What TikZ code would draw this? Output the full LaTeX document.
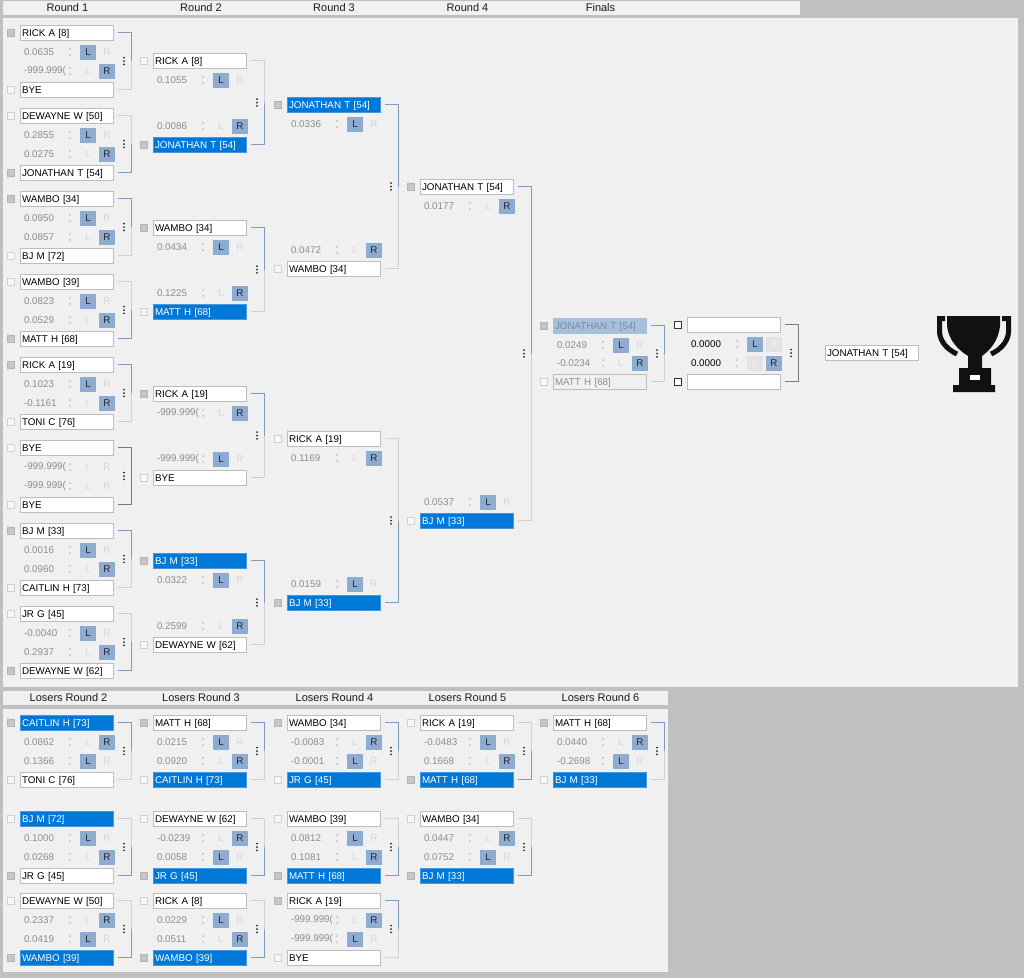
\documentclass[tikz,border=0pt]{standalone}
\usepackage{fontspec}
\setmainfont{Liberation Sans}
\newcommand*{\boxfont}{\fontsize{9.8}{11}\selectfont}
\newcommand*{\headfont}{\fontsize{11}{13}\selectfont}
\definecolor{frame}{HTML}{C0C0C0}
\definecolor{panel}{HTML}{F0F0F0}
\definecolor{boxline}{HTML}{BDBDBD}
\definecolor{pick}{HTML}{0078D7}
\definecolor{pickline}{HTML}{4A97DE}
\definecolor{dimpick}{HTML}{A8BFDC}
\definecolor{dimtext}{HTML}{7A8AA3}
\definecolor{btnblue}{HTML}{8EABD1}
\definecolor{faded}{HTML}{D6D6D6}
\definecolor{scoretext}{HTML}{8C8C8C}
\definecolor{wonblue}{HTML}{8199BF}
\definecolor{lostgrey}{HTML}{D0D0D0}
\definecolor{opengrey}{HTML}{7A7A7A}
\definecolor{tickgrey}{HTML}{C6C6C6}
\definecolor{tickline}{HTML}{B4B4B4}
\definecolor{cup}{HTML}{111111}
\usepackage{tikz}
\usetikzlibrary{calc}
\tikzstyle{base}=[x=1pt, y=-1pt, inner sep=0pt, outer sep=0pt, label distance=6pt, font=\boxfont]
\tikzstyle{head}=[font=\headfont, text=black!90]
\tikzstyle{namebox}=[draw=boxline, fill=white, anchor=north west, text width=89pt, inner xsep=2pt, minimum height=15pt, align=left, text height=8.5pt, text depth=1pt]
\tikzstyle{tickbox}=[draw, minimum size=7pt, inner sep=0pt]
\tikzstyle{chk}=[label={[tickbox, fill=tickgrey, draw=tickline]left:{}}]
\tikzstyle{nochk}=[label={[tickbox, fill=white!97!black, draw=lostgrey]left:{}}]
\tikzstyle{openchk}=[label={[tickbox, fill=white, draw=black!80]left:{}}]
\tikzstyle{wc}=[namebox, chk]
\tikzstyle{wu}=[namebox, nochk]
\tikzstyle{wn}=[namebox, nochk]
\tikzstyle{bc}=[namebox, fill=pick, draw=pickline, text=white, chk]
\tikzstyle{bu}=[namebox, fill=pick, draw=pickline, text=white, nochk]
\tikzstyle{dc}=[namebox, fill=dimpick, draw=dimpick, text=dimtext, chk]
\tikzstyle{du}=[namebox, fill=panel, draw=boxline, text=scoretext, nochk]
\tikzstyle{en}=[namebox, openchk]
\tikzstyle{won}=[draw=wonblue, line width=0.9pt]
\tikzstyle{lost}=[draw=lostgrey, line width=0.9pt]
\tikzstyle{open}=[draw=opengrey, line width=0.9pt]
\tikzstyle{wc line}=[won]
\tikzstyle{bc line}=[won]
\tikzstyle{dc line}=[won]
\tikzstyle{wu line}=[lost]
\tikzstyle{bu line}=[lost]
\tikzstyle{du line}=[lost]
\tikzstyle{wn line}=[open]
\tikzstyle{en line}=[open]
\tikzstyle{score}=[anchor=west, text=scoretext]
\tikzstyle{on}=[fill=btnblue, text=black!85, minimum width=16pt, minimum height=15pt]
\tikzstyle{off}=[text=faded, minimum width=16pt, minimum height=15pt]
\tikzstyle{offbox}=[fill=black!11, text=black!4, minimum width=16pt, minimum height=15pt]
\newcommand{\match}[8]{%
  \node[#5] (#1a) at (#2,#3) {#6};
  \node[#7] (#1b) at (#2,#3+#4) {#8};
  \coordinate (#1m) at ($(#1a.east)!.5!(#1b.east)$);
  \draw[#5 line] ([xshift=5pt]#1a.east) -| ([xshift=18pt]#1m);
  \draw[#7 line] ([xshift=5pt]#1b.east) -| ([xshift=18pt]#1m);
  \fill[black!85] ([xshift=11pt]#1m) ++(0,-3.3) circle[radius=1] ++(0,3.3) circle[radius=1] ++(0,3.3) circle[radius=1];
}
\newcommand{\scores}[7]{%
  \path (#1a.south west) ++(4,12) node[score] {#2};
  \fill[scoretext!70] (#1a.south west) ++(50,9) circle[radius=0.8] ++(0,6) circle[radius=0.8];
  \path (#1a.south west) ++(68,12) node[#3] {L};
  \path (#1a.south west) ++(87,12) node[#4] {R};
  \path (#1b.north west) ++(4,-11) node[score] {#5};
  \fill[scoretext!70] (#1b.north west) ++(50,-14) circle[radius=0.8] ++(0,6) circle[radius=0.8];
  \path (#1b.north west) ++(68,-11) node[#6] {L};
  \path (#1b.north west) ++(87,-11) node[#7] {R};
}

\begin{document}
\begin{tikzpicture}[base]
    \fill[frame] (0,0) rectangle (1024,978);
    \fill[panel] (3,1) rectangle (800,15);
    \fill[panel] (3,18) rectangle (1018,687);
    \fill[panel] (3,691) rectangle (668,705);
    \fill[panel] (3,709) rectangle (668,972);
    \path[use as bounding box] (0,0) rectangle (1024,978);

    \node[head] (h1) at (67.5,8) {Round 1};
    \node[head] (h2) at (201,8) {Round 2};
    \node[head] (h3) at (334,8) {Round 3};
    \node[head] (h4) at (467.5,8) {Round 4};
    \node[head] (h5) at (600.5,8) {Finals};
    \node[head] (lh2) at (68.5,698) {Losers Round 2};
    \node[head] (lh3) at (201,698) {Losers Round 3};
    \node[head] (lh4) at (334.5,698) {Losers Round 4};
    \node[head] (lh5) at (467.5,698) {Losers Round 5};
    \node[head] (lh6) at (600.5,698) {Losers Round 6};

    \match{r1m1}{20}{25}{57}{wc}{RICK A [8]}{wu}{BYE}
    \scores{r1m1}{0.0635}{on}{off}{-999.999(}{off}{on}
    \match{r1m2}{20}{108}{57}{wu}{DEWAYNE W [50]}{wc}{JONATHAN T [54]}
    \scores{r1m2}{0.2855}{on}{off}{0.0275}{off}{on}
    \match{r1m3}{20}{191}{57}{wc}{WAMBO [34]}{wu}{BJ M [72]}
    \scores{r1m3}{0.0950}{on}{off}{0.0857}{off}{on}
    \match{r1m4}{20}{274}{57}{wu}{WAMBO [39]}{wc}{MATT H [68]}
    \scores{r1m4}{0.0823}{on}{off}{0.0529}{off}{on}
    \match{r1m5}{20}{357}{57}{wc}{RICK A [19]}{wu}{TONI C [76]}
    \scores{r1m5}{0.1023}{on}{off}{-0.1161}{off}{on}
    \match{r1m6}{20}{440}{57}{wn}{BYE}{wn}{BYE}
    \scores{r1m6}{-999.999(}{off}{off}{-999.999(}{off}{off}
    \match{r1m7}{20}{523}{57}{wc}{BJ M [33]}{wu}{CAITLIN H [73]}
    \scores{r1m7}{0.0016}{on}{off}{0.0960}{off}{on}
    \match{r1m8}{20}{606}{57}{wu}{JR G [45]}{wc}{DEWAYNE W [62]}
    \scores{r1m8}{-0.0040}{on}{off}{0.2937}{off}{on}

    \match{r2m1}{153}{53}{84}{wu}{RICK A [8]}{bc}{JONATHAN T [54]}
    \scores{r2m1}{0.1055}{on}{off}{0.0086}{off}{on}
    \match{r2m2}{153}{220}{84}{wc}{WAMBO [34]}{bu}{MATT H [68]}
    \scores{r2m2}{0.0434}{on}{off}{0.1225}{off}{on}
    \match{r2m3}{153}{386}{84}{wc}{RICK A [19]}{wu}{BYE}
    \scores{r2m3}{-999.999(}{off}{on}{-999.999(}{on}{off}
    \match{r2m4}{153}{553}{84}{bc}{BJ M [33]}{wu}{DEWAYNE W [62]}
    \scores{r2m4}{0.0322}{on}{off}{0.2599}{off}{on}

    \match{r3m1}{287}{97}{164}{bc}{JONATHAN T [54]}{wu}{WAMBO [34]}
    \scores{r3m1}{0.0336}{on}{off}{0.0472}{off}{on}
    \match{r3m2}{287}{431}{164}{wu}{RICK A [19]}{bc}{BJ M [33]}
    \scores{r3m2}{0.1169}{off}{on}{0.0159}{on}{off}

    \match{r4m1}{420}{179}{334}{wc}{JONATHAN T [54]}{bu}{BJ M [33]}
    \scores{r4m1}{0.0177}{off}{on}{0.0537}{on}{off}

    \match{f1}{553}{318}{56}{dc}{JONATHAN T [54]}{du}{MATT H [68]}
    \scores{f1}{0.0249}{on}{off}{-0.0234}{off}{on}
    \match{f2}{687}{317}{57}{en}{}{en}{}
    \scores{f2}{\color{black}0.0000}{on}{offbox}{\color{black}0.0000}{offbox}{on}
    \node[namebox] (champ) at (825,345) {JONATHAN T [54]};

    \match{l2m1}{20}{715}{57}{bc}{CAITLIN H [73]}{wu}{TONI C [76]}
    \scores{l2m1}{0.0862}{off}{on}{0.1366}{on}{off}
    \match{l2m2}{20}{811}{57}{bu}{BJ M [72]}{wc}{JR G [45]}
    \scores{l2m2}{0.1000}{on}{off}{0.0268}{off}{on}
    \match{l2m3}{20}{893}{57}{wu}{DEWAYNE W [50]}{bc}{WAMBO [39]}
    \scores{l2m3}{0.2337}{off}{on}{0.0419}{on}{off}

    \match{l3m1}{153}{715}{57}{wc}{MATT H [68]}{bu}{CAITLIN H [73]}
    \scores{l3m1}{0.0215}{on}{off}{0.0920}{off}{on}
    \match{l3m2}{153}{811}{57}{wu}{DEWAYNE W [62]}{bc}{JR G [45]}
    \scores{l3m2}{-0.0239}{off}{on}{0.0058}{on}{off}
    \match{l3m3}{153}{893}{57}{wu}{RICK A [8]}{bc}{WAMBO [39]}
    \scores{l3m3}{0.0229}{on}{off}{0.0511}{off}{on}

    \match{l4m1}{287}{715}{57}{wc}{WAMBO [34]}{bu}{JR G [45]}
    \scores{l4m1}{-0.0083}{off}{on}{-0.0001}{on}{off}
    \match{l4m2}{287}{811}{57}{wu}{WAMBO [39]}{bc}{MATT H [68]}
    \scores{l4m2}{0.0812}{on}{off}{0.1081}{off}{on}
    \match{l4m3}{287}{893}{57}{wc}{RICK A [19]}{wu}{BYE}
    \scores{l4m3}{-999.999(}{off}{on}{-999.999(}{on}{off}

    \match{l5m1}{420}{715}{57}{wu}{RICK A [19]}{bc}{MATT H [68]}
    \scores{l5m1}{-0.0483}{on}{off}{0.1668}{off}{on}
    \match{l5m2}{420}{811}{57}{wu}{WAMBO [34]}{bc}{BJ M [33]}
    \scores{l5m2}{0.0447}{off}{on}{0.0752}{on}{off}

    \match{l6m1}{553}{715}{57}{wc}{MATT H [68]}{bu}{BJ M [33]}
    \scores{l6m1}{0.0440}{off}{on}{-0.2698}{on}{off}

    \fill[cup] (947,316) -- (1000,316) -- (1000,325) .. controls (999,341) and (989,351) .. (982,356) -- (982,368) -- (991,368) -- (991,385) -- (995,385) -- (995,392) -- (953,392) -- (953,385) -- (959,385) -- (959,368) -- (968,368) -- (968,356) .. controls (960,351) and (948,341) .. (947,325) -- cycle;
    \fill[white] (970,375) rectangle (980,380);
    \draw[cup, line width=5pt] (945,318.5) -- (939.5,318.5) -- (939.5,332) .. controls (940,342) and (948,350) .. (957,354);
    \draw[cup, line width=5pt] (1002,318.5) -- (1008.5,318.5) -- (1008.5,332) .. controls (1008,342) and (1000,350) .. (991,354);
\end{tikzpicture}
\end{document}
